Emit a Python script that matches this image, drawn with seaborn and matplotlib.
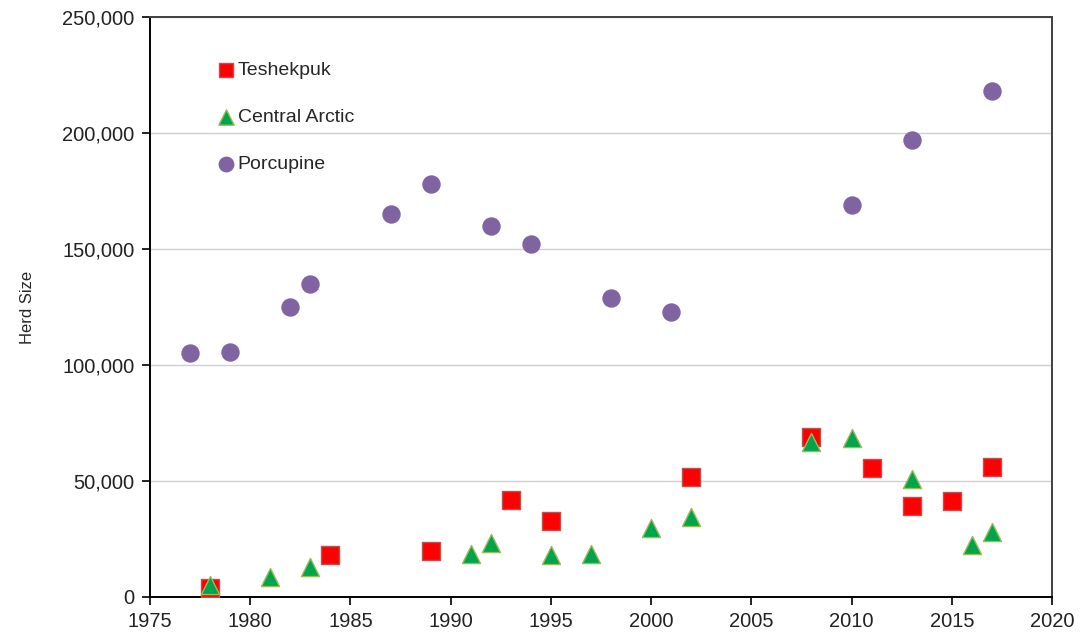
import matplotlib
matplotlib.use('Agg')
import matplotlib.pyplot as plt
import matplotlib.ticker as mticker
import pandas as pd
import seaborn as sns

# herd counts
tesh_years = [1978, 1984, 1989, 1993, 1995, 2002, 2008, 2011, 2013, 2015, 2017]
tesh_size = [4000, 18300, 19700, 41600, 32800, 51700, 68900, 55700, 39200, 41500, 56000]

ca_years = [1978, 1981, 1983, 1991, 1992, 1995, 1997, 2000, 2002, 2008, 2010, 2013, 2016, 2017]
ca_size = [5000, 8700, 12800, 18400, 23400, 18100, 18700, 29700, 34600, 66800, 68400, 50800, 22600, 28000]

porc_years = [1977, 1979, 1982, 1983, 1987, 1989, 1992, 1994, 1998, 2001, 2010, 2013, 2017]
porc_size = [105000, 105500, 125000, 135000, 165000, 178000, 160000, 152000, 129000, 123000, 169000, 197000, 218000]

herds = ['Teshekpuk', 'Central Arctic', 'Porcupine']
face = {'Teshekpuk': '#FF0000', 'Central Arctic': '#00A44A', 'Porcupine': '#8064A2'}
edge = {'Teshekpuk': '#C0504D', 'Central Arctic': '#9BBB59', 'Porcupine': '#8064A2'}
marks = {'Teshekpuk': 's', 'Central Arctic': '^', 'Porcupine': 'o'}
sizes = {'Teshekpuk': 150, 'Central Arctic': 170, 'Porcupine': 150}

df = pd.concat([
    pd.DataFrame({'year': tesh_years, 'size': tesh_size, 'herd': 'Teshekpuk'}),
    pd.DataFrame({'year': ca_years, 'size': ca_size, 'herd': 'Central Arctic'}),
    pd.DataFrame({'year': porc_years, 'size': porc_size, 'herd': 'Porcupine'}),
])

sns.set_style('white')
plt.rcParams['font.family'] = ['Liberation Sans', 'DejaVu Sans']

fig = plt.figure(figsize=(10.83, 6.38), dpi=100)
ax = fig.add_axes([0.1385, 0.0643, 0.8329, 0.909])

for h in herds:
    d = df[df['herd'] == h]
    sns.scatterplot(data=d, x='year', y='size', ax=ax, marker=marks[h], s=sizes[h],
                    color=face[h], edgecolor=edge[h], linewidth=1.0, label=h, zorder=3)

ax.set_xlim(1975, 2020)
ax.set_ylim(0, 250000)
ax.set_xticks(range(1975, 2021, 5))
ax.set_yticks(range(0, 250001, 50000))
ax.yaxis.set_major_formatter(mticker.FuncFormatter(lambda v, p: f'{int(v):,}'))
ax.yaxis.grid(True, color='#D0D0D0', linewidth=1)
ax.set_axisbelow(True)
ax.set_xlabel('')
ax.set_ylabel('Herd Size', fontsize=12, labelpad=20)

for s in ['left', 'bottom']:
    ax.spines[s].set_color('black')
    ax.spines[s].set_linewidth(1.4)
for s in ['top', 'right']:
    ax.spines[s].set_color('#404040')
    ax.spines[s].set_linewidth(1.4)
ax.tick_params(axis='both', direction='out', length=6, width=1.2, color='black',
               labelsize=14.5, labelcolor='#222222', left=True, bottom=True, pad=5)

ax.legend(loc='upper left', bbox_to_anchor=(0.052, 0.953), frameon=False,
          fontsize=14, handletextpad=0.0, labelspacing=1.5, markerscale=0.85,
          handlelength=1.2)

fig.savefig('out.png', dpi=100)
